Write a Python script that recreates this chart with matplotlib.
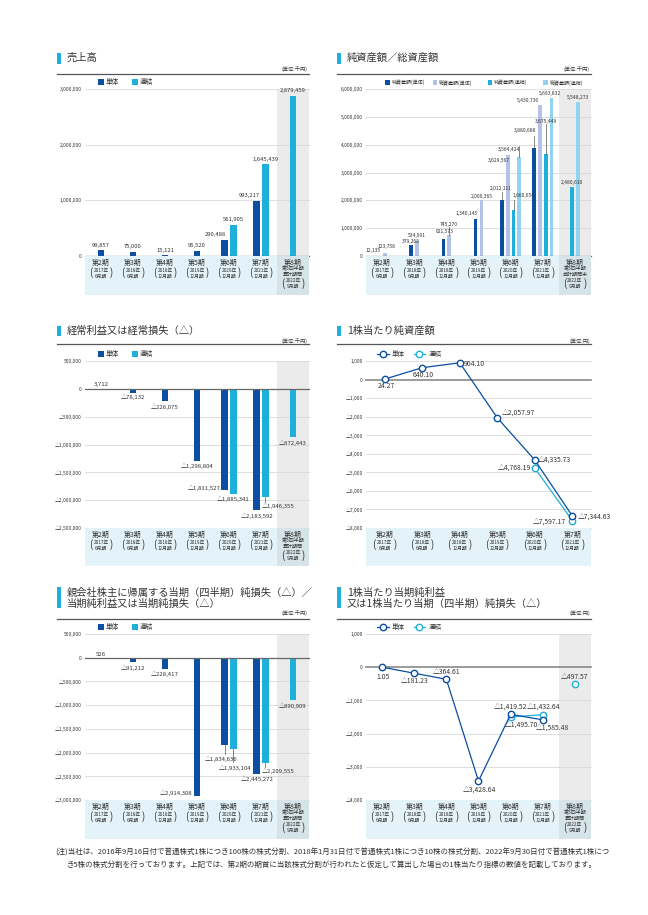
import numpy as np
import matplotlib
matplotlib.use('Agg')
import matplotlib.pyplot as plt
from matplotlib.patches import Rectangle
from matplotlib.lines import Line2D

plt.rcParams['font.family'] = ['Noto Sans CJK JP', 'DejaVu Sans']

# ---- data ----
periods = ['第2期', '第3期', '第4期', '第5期', '第6期', '第7期', '第8期']
period_years = ['2017年', '2018年', '2018年', '2019年', '2020年', '2021年', '2022年']
period_months = ['6月期', '6月期', '12月期', '12月期', '12月期', '12月期', '9月期']
q_cum = ['第3四半期', '累計期間']
q_end = ['第3四半期', '会計期間末']

sales_single = [99857, 75000, 15121, 95520, 290488, 993217, None]
sales_consol = [None, None, None, None, 561905, 1645439, 2879459]

net_assets_single = [12135, 379268, 621573, 1340145, 2012111, 3880688, None]
total_assets_single = [123758, 534991, 745270, 2000365, 3629567, 5430736, None]
net_assets_consol = [None, None, None, None, 1660654, 3675449, 2480610]
total_assets_consol = [None, None, None, None, 3564424, 5693832, 5548273]

ordinary_single = [3712, -78132, -226075, -1298804, -1811527, -2183592, None]
ordinary_consol = [None, None, None, None, -1885341, -1946355, -872443]

bps_single = [24.27, 640.10, 904.10, -2057.97, -4335.73, -7344.63]
bps_consol = [None, None, None, None, -4768.19, -7597.17]

netloss_single = [526, -91212, -228417, -2914308, -1834636, -2445272, None]
netloss_consol = [None, None, None, None, -1933104, -2209555, -890909]

eps_single = [1.05, -181.23, -364.61, -3428.64, -1419.52, -1585.48, None]
eps_consol = [None, None, None, None, -1495.70, -1432.64, -497.57]

# ---- colours ----
C_SINGLE = '#0b4ea2'
C_CONSOL = '#1eb0db'
C_TOTAL_S = '#b3c2e5'
C_TOTAL_C = '#92d4ef'
BAND = '#e4f3fa'
BAND_Q = '#d6e4e9'
HILITE = '#ebebeb'
GRID = '#d8d8d8'
TXT = '#333333'

W, H = 648, 915
fig = plt.figure(figsize=(W / 100, H / 100), dpi=100)


def fx(x):
    return x / W


def fy(y):
    return 1 - y / H


def add_ax(l, t, r, b):
    return fig.add_axes([fx(l), fy(b), (r - l) / W, (b - t) / H])


def fmt_int(v):
    return ('△' if v < 0 else '') + '{:,}'.format(int(abs(v)))


def fmt_dec(v):
    return ('△' if v < 0 else '') + '{:,.2f}'.format(abs(v))


def header(l, r, lines, ys, bar_top, bar_bot, unit, unit_y, line_y):
    fig.add_artist(Rectangle((fx(l), fy(bar_bot)), 3.5 / W, (bar_bot - bar_top) / H,
                             transform=fig.transFigure, color=C_CONSOL, lw=0))
    for s, y in zip(lines, ys):
        fig.text(fx(l + 10), fy(y), s, fontsize=7.4, color=TXT, va='center', ha='left')
    fig.text(fx(r - 1), fy(unit_y), unit, fontsize=3.8, color=TXT, ha='right', va='center')
    fig.add_artist(Line2D([fx(l), fx(r)], [fy(line_y), fy(line_y)],
                          transform=fig.transFigure, color='#555555', lw=0.9))


def bar_legend(items, y, size, fs):
    for x, label, color in items:
        fig.add_artist(Rectangle((fx(x), fy(y + size / 2)), size / W, size / H,
                                 transform=fig.transFigure, color=color, lw=0))
        fig.text(fx(x + size + 2), fy(y), label, fontsize=fs, color=TXT, va='center', ha='left')


def line_legend(items, y):
    for x, label, color in items:
        fig.add_artist(Line2D([fx(x), fx(x + 11.5)], [fy(y), fy(y)],
                              transform=fig.transFigure, color=color, lw=0.9))
        fig.add_artist(Line2D([fx(x + 5.75)], [fy(y)], transform=fig.transFigure, ls='none',
                              marker='o', ms=4.6, mfc='white', mec=color, mew=1.0))
        fig.text(fx(x + 15), fy(y), label, fontsize=4.7, color=TXT, va='center', ha='left')


def band(l, t, r, b, n, q_lines=None):
    ax = add_ax(l, t, r, b)
    ax.set_xlim(-0.5, n - 0.5)
    ax.set_ylim(b - t, 0)
    ax.axis('off')
    ax.axvspan(-0.5, n - 0.5, color=BAND, lw=0)
    cw = (r - l) / n
    po = 10.5 / cw
    for i in range(n):
        if q_lines is not None and i == n - 1:
            ax.axvspan(i - 0.5, i + 0.5, color=BAND_Q, lw=0)
            ax.text(i, 6.5, periods[i], fontsize=5, color=TXT, ha='center', va='center')
            ax.text(i, 12.5, q_lines[0], fontsize=3.6, color=TXT, ha='center', va='center')
            ax.text(i, 18, q_lines[1], fontsize=3.6, color=TXT, ha='center', va='center')
            yy = 24.5
        else:
            ax.text(i, 6.5, periods[i], fontsize=5, color=TXT, ha='center', va='center')
            yy = 14
        ax.text(i, yy, period_years[i], fontsize=3.4, color=TXT, ha='center', va='center')
        ax.text(i, yy + 6, period_months[i], fontsize=3.4, color=TXT, ha='center', va='center')
        ax.text(i - po, yy + 3, '(', fontsize=7, color=TXT, ha='center', va='center')
        ax.text(i + po, yy + 3, ')', fontsize=7, color=TXT, ha='center', va='center')
    return ax


def style_axes(ax, n, ylim, step, fmt, highlight, zero_color, zero_lw):
    ax.set_xlim(-0.5, n - 0.5)
    ax.set_ylim(*ylim)
    if highlight:
        ax.axvspan(n - 1.5, n - 0.5, color=HILITE, lw=0, zorder=0)
    ticks = np.arange(ylim[0], ylim[1] + step / 2, step)
    for v in ticks:
        if v != 0:
            ax.axhline(v, color=GRID, lw=0.6, zorder=1, clip_on=False)
    ax.axhline(0, color=zero_color, lw=zero_lw, zorder=3, clip_on=False)
    ax.set_yticks(ticks)
    ax.set_yticklabels([fmt(v) for v in ticks])
    ax.tick_params(axis='y', length=0, pad=2.2, labelsize=3.5, labelcolor=TXT)
    ax.set_xticks([])
    for s in ax.spines.values():
        s.set_visible(False)
    ax.patch.set_alpha(0)


def bar_panel(box, ylim, step, series, colors, width, spacing, labels, fs, highlight=True):
    ax = add_ax(*box)
    n = len(series[0])
    style_axes(ax, n, ylim, step, fmt_int, highlight, '#666666', 0.9)
    ppx = (ylim[1] - ylim[0]) / (box[3] - box[1])
    for i in range(n):
        present = [k for k in range(len(series)) if series[k][i] is not None]
        m = len(present)
        for j, k in enumerate(present):
            x = i + (j - (m - 1) / 2) * spacing
            v = series[k][i]
            ax.bar(x, v, width=width, color=colors[k], zorder=2)
            default = (0, -5, 'center', 0) if v >= 0 else (0, 5, 'center', 0)
            dx, dy, ha, lead = labels.get((k, i), default)
            if lead:
                ax.plot([x, x], [v, v - np.sign(dy) * abs(lead) * ppx], color='#555555', lw=0.5,
                        zorder=4, clip_on=False)
            ax.annotate(fmt_int(v), (x, v), xytext=(dx, -dy), textcoords='offset pixels',
                        ha=ha, va='center', fontsize=fs, color=TXT, zorder=5, annotation_clip=False)
    return ax


def line_panel(box, ylim, step, single, consol, labels, highlight):
    ax = add_ax(*box)
    n = len(single)
    style_axes(ax, n, ylim, step, fmt_int, highlight, '#8a8a8a', 1.2)
    x = np.arange(n)
    s = np.array([np.nan if v is None else v for v in single], float)
    c = np.array([np.nan if v is None else v for v in consol], float)
    mk = dict(marker='o', ms=4.6, mfc='white', mew=1.0, zorder=4, clip_on=False)
    ax.plot(x[:6], c[:6], color=C_CONSOL, lw=0.9, mec=C_CONSOL, **mk)
    if n > 6:
        ax.plot(x[6:], c[6:], ls='none', mec=C_CONSOL, **mk)
    ax.plot(x[:6], s[:6], color=C_SINGLE, lw=0.9, mec=C_SINGLE, **mk)
    for k, arr in enumerate([single, consol]):
        for i, v in enumerate(arr):
            if v is None:
                continue
            dx, dy, ha = labels[(k, i)]
            ax.annotate(fmt_dec(v), (i, v), xytext=(dx, -dy), textcoords='offset pixels',
                        ha=ha, va='center', fontsize=4.9, color=TXT, zorder=5, annotation_clip=False)
    return ax


# ---- 売上高 ----
header(57, 309, ['売上高'], [58], 53, 63.5, '(単位:千円)', 69, 74.3)
bar_legend([(98, '単体', C_SINGLE), (132, '連結', C_CONSOL)], 82, 6, 4.8)
bar_panel((85, 89, 309, 256), (0, 3000000), 1000000, [sales_single, sales_consol],
          [C_SINGLE, C_CONSOL], 0.21, 0.26,
          {(0, 4): (-9.5, -5, 'center', 0), (0, 5): (-8, -5, 'center', 0)}, 4.2)
band(85, 256, 309, 295, 7, q_cum)

# ---- 純資産額／総資産額 ----
header(337, 591, ['純資産額／総資産額'], [58], 53, 63.5, '(単位:千円)', 69, 74.3)
bar_legend([(385, '純資産額(単体)', C_SINGLE), (432.7, '総資産額(単体)', C_TOTAL_S),
            (487.7, '純資産額(連結)', C_CONSOL), (543.3, '総資産額(連結)', C_TOTAL_C)], 82.5, 4.5, 3.6)
asset_labels = {
    (0, 0): (-6, -4.7, 'center', 0), (0, 1): (0, -4, 'center', 0), (0, 2): (1.5, -7, 'center', 0),
    (0, 3): (-9, -4.7, 'center', 0), (0, 4): (-1, -11.7, 'center', 8), (0, 5): (-9, -17.3, 'center', 12),
    (1, 0): (1.5, -6, 'center', 0), (1, 1): (0, -5.4, 'center', 0), (1, 2): (0, -11, 'center', 8),
    (1, 3): (0, -4.3, 'center', 0), (1, 4): (-9, 5.7, 'center', 0), (1, 5): (-12, -4, 'center', 0),
    (2, 4): (10.5, -14, 'center', 10), (2, 5): (0, -32.7, 'center', 29.7), (2, 6): (0, -4, 'center', 0),
    (3, 4): (-10, -6.8, 'center', 11), (3, 5): (-1, -4, 'center', 0), (3, 6): (0, -4, 'center', 0),
}
bar_panel((366, 89, 591, 256), (0, 6000000), 1000000,
          [net_assets_single, total_assets_single, net_assets_consol, total_assets_consol],
          [C_SINGLE, C_TOTAL_S, C_CONSOL, C_TOTAL_C], 0.115, 0.18, asset_labels, 3.6)
band(366, 256, 591, 295, 7, q_end)

# ---- 経常利益又は経常損失 ----
header(57, 309, ['経常利益又は経常損失（△）'], [330.7], 326, 335.5, '(単位:千円)', 340.7, 344.3)
bar_legend([(98, '単体', C_SINGLE), (132, '連結', C_CONSOL)], 354, 6, 4.8)
bar_panel((85, 361, 309, 528), (-2500000, 500000), 500000, [ordinary_single, ordinary_consol],
          [C_SINGLE, C_CONSOL], 0.21, 0.26,
          {(0, 0): (0, -3.8, 'center', 0), (0, 1): (0, 4, 'center', 0),
           (0, 4): (-4.5, -1.7, 'right', 0), (1, 5): (-3, 8.5, 'left', 4.5)}, 4.3)
band(85, 528, 309, 566, 7, q_cum)

# ---- 1株当たり純資産額 ----
header(337, 591, ['1株当たり純資産額'], [330.7], 326, 335.5, '(単位:円)', 340.7, 344.3)
line_legend([(377, '単体', C_SINGLE), (413.5, '連結', C_CONSOL)], 354)
bps_labels = {
    (0, 0): (1.5, 7.2, 'center'), (0, 1): (0.8, 7.5, 'center'), (0, 2): (4.3, 1.7, 'left'),
    (0, 3): (4.5, -5, 'left'), (0, 4): (3.5, 0, 'left'), (0, 5): (6, 1, 'left'),
    (1, 4): (-3.7, -0.5, 'right'), (1, 5): (-6, 1, 'right'),
}
line_panel((366, 361, 591, 528), (-8000, 1000), 1000, bps_single, bps_consol, bps_labels, False)
band(366, 528, 591, 566, 6)

# ---- 親会社株主に帰属する当期純損失 ----
header(57, 309, ['親会社株主に帰属する当期（四半期）純損失（△）／', '当期純利益又は当期純損失（△）'],
       [592.3, 603.3], 586.7, 608.3, '(単位:千円)', 613.3, 619.3)
bar_legend([(98, '単体', C_SINGLE), (132, '連結', C_CONSOL)], 626.7, 6, 4.8)
bar_panel((85, 634, 309, 800), (-3000000, 500000), 500000, [netloss_single, netloss_consol],
          [C_SINGLE, C_CONSOL], 0.21, 0.26,
          {(0, 0): (0, -3.5, 'center', 0), (0, 1): (0, 6, 'center', 0),
           (0, 3): (-4.5, -3, 'right', 0), (0, 4): (-4, 14, 'center', 9),
           (1, 4): (2, 18.5, 'center', 13), (1, 5): (-3, 8.3, 'left', 4),
           (1, 6): (0, 6, 'center', 0)}, 4.3)
band(85, 800, 309, 839, 7, q_cum)

# ---- 1株当たり当期純利益 ----
header(337, 591, ['1株当たり当期純利益', '又は1株当たり当期（四半期）純損失（△）'],
       [592.3, 603.3], 586.7, 608.3, '(単位:円)', 613.3, 619.3)
line_legend([(377, '単体', C_SINGLE), (413.5, '連結', C_CONSOL)], 626.7)
eps_labels = {
    (0, 0): (0.5, 10, 'center'), (0, 1): (0.8, 7.3, 'center'), (0, 2): (0.6, -7.8, 'center'),
    (0, 3): (0.5, 8.3, 'center'), (0, 4): (0.4, -7.5, 'center'), (0, 5): (9.5, 7.6, 'center'),
    (1, 4): (11, 7.6, 'center'), (1, 5): (0.5, -8, 'center'), (1, 6): (0, -7.2, 'center'),
}
line_panel((366, 634, 591, 800), (-4000, 1000), 1000, eps_single, eps_consol, eps_labels, True)
band(366, 800, 591, 839, 7, q_cum)

# ---- footnote ----
fig.text(fx(55), fy(853), '(注)当社は、2016年9月16日付で普通株式1株につき100株の株式分割、2018年1月31日付で'
         '普通株式1株につき10株の株式分割、2022年9月30日付で普通株式1株につ',
         fontsize=5.4, color=TXT, va='center', ha='left')
fig.text(fx(66.5), fy(865), 'き5株の株式分割を行っております。上記では、第2期の期首に当該株式分割が行われたと'
         '仮定して算出した場合の1株当たり指標の数値を記載しております。',
         fontsize=5.4, color=TXT, va='center', ha='left')

fig.savefig('out.png', dpi=100, facecolor='white')
